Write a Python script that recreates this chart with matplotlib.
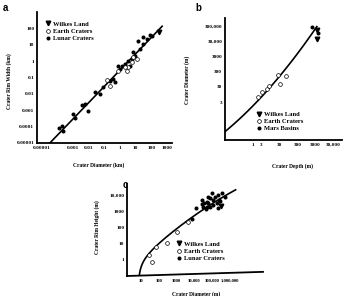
import numpy as np
import matplotlib
matplotlib.use("Agg")
import matplotlib.pyplot as plt
from matplotlib.lines import Line2D

# ---------------- Panel a: rim width vs diameter (km) ----------------
a_lunar_x = [1.23e-4, 2.24e-4, 1.9e-4, 9.8e-4, 1.3e-3, 3.6e-3, 5.8e-3, 8.9e-3, 0.025, 0.052,
             0.081, 0.23, 0.35, 0.48, 1.0, 1.35, 2.1, 3.2, 5.9, 9.1, 6.8, 4.4, 19, 14, 30,
             54, 30, 83, 112, 0.74]
a_lunar_y = [7.9e-5, 5.2e-5, 1.05e-4, 5.8e-4, 3.2e-4, 2.0e-3, 2.3e-3, 8.7e-4, 0.0126, 0.0095,
             0.025, 0.059, 0.078, 0.051, 0.32, 0.48, 0.63, 0.98, 1.29, 1.95, 3.5, 0.48, 5.2,
             15.8, 10.5, 21, 28, 37, 32, 0.48]
a_earth_x = [0.148, 0.23, 0.74, 2.8, 3.2, 2.1, 6.8, 12.3, 5.9]
a_earth_y = [0.068, 0.029, 0.24, 0.24, 0.42, 0.42, 1.7, 1.29, 0.85]
a_wilkes_x = [316]
a_wilkes_y = [56]
a_fit = (-0.55, 0.99)          # log10 W = c0 + c1 log10 D
a_fit_range = (3.2e-5, 500)
a_xticks = [1e-5, 1e-3, 1e-2, 0.1, 1, 10, 100, 1000]
a_xticklabels = ["0.00001", "0.001", "0.01", "0.1", "1", "10", "100", "1000"]
a_yticks = [1e-5, 1e-4, 1e-3, 1e-2, 0.1, 1, 10, 100]
a_yticklabels = ["0.00001", "0.0001", "0.001", "0.01", "0.1", "1", "10", "100"]

# ---------------- Panel b: diameter vs depth (m) ----------------
b_earth_x = [2.0, 3.0, 5.8, 8.1, 25.7, 33, 65]
b_earth_y = [6.2, 14, 20, 35, 170, 44, 155]
b_mars_x = [2000, 3900]
b_mars_y = [270000, 98000]
b_wilkes_x = [3470, 3470]
b_wilkes_y = [162000, 40000]
b_fit = (0.226, 1.208, 0.0739)   # quadratic in log-log
b_fit_range = (0.028, 3500)
b_xticks = [1, 3, 30, 300, 3000, 30000]
b_xticklabels = ["1", "3", "30", "300", "3000", "30,000"]
b_yticks = [3, 30, 300, 3000, 30000, 300000]
b_yticklabels = ["3", "30", "300", "3000", "30,000", "300,000"]

# ---------------- Panel c: rim height vs diameter (m) ----------------
c_earth_x = [28, 44, 68, 282, 1120, 4370]
c_earth_y = [1.9, 0.65, 5.6, 10.7, 51, 200]
c_lunar_x = [7900, 12300, 26900, 36300, 51300, 33100, 51300, 63100, 79400, 63100, 97700, 79400,
             120000, 151000, 234000, 191000, 263000, 363000, 562000, 46800, 26900, 120000,
             234000, 295000]
c_lunar_y = [316, 1580, 2630, 3020, 3470, 1700, 1700, 3020, 1860, 7760, 12600, 6170,
             4790, 7760, 9770, 3020, 4790, 12600, 7760, 1290, 4790, 2340, 1480, 3980]
c_wilkes_x = [316000]
c_wilkes_y = [2140]
c_fit = (-1.009, 1.079, -0.0377, 7.0)  # quadratic in log10(D - D0)
c_fit_range = (7.9, 2.2e6)
c_xticks = [10, 100, 1000, 1e4, 1e5, 1e6]
c_xticklabels = ["10", "100", "1000", "10,000", "100,000", "1,000,000"]
c_yticks = [1, 10, 100, 1000, 10000]
c_yticklabels = ["1", "10", "100", "1000", "10,000"]

SERIF = ["Liberation Serif", "DejaVu Serif"]
plt.rcParams["font.family"] = SERIF
plt.rcParams["font.weight"] = "bold"

fig = plt.figure(figsize=(3.5, 2.96), dpi=100)

def style(ax, xlim, ylim, xt, xtl, yt, ytl, slanted=False, xsize=3.8):
    ax.set_xscale("log")
    ax.set_yscale("log")
    ax.set_xlim(*xlim)
    ax.set_ylim(*ylim)
    ax.set_xticks(xt)
    ax.set_xticklabels(xtl)
    ax.set_yticks(yt)
    ax.set_yticklabels(ytl)
    ax.minorticks_off()
    ax.tick_params(length=0, labelsize=3.8, pad=2)
    ax.tick_params(axis="x", labelsize=xsize)
    for lab in ax.get_xticklabels() + ax.get_yticklabels():
        lab.set_fontweight("bold")
    for s in ["top", "right"]:
        ax.spines[s].set_visible(False)
    ax.spines["left"].set_linewidth(1.3)
    ax.spines["bottom"].set_linewidth(1.3)
    if slanted:
        ax.spines["bottom"].set_visible(False)
        ax.add_line(Line2D([0, 1], [0, 0.045], transform=ax.transAxes, color="black",
                           lw=1.3, clip_on=False))
    ax.patch.set_alpha(0)

ms_dot, ms_open, ms_tri = 1.9, 2.7, 3.3
leg_kw = dict(frameon=False, handletextpad=0.4, labelspacing=0.25,
              borderpad=0.0, handlelength=0.8, borderaxespad=0.0)
LEGPROP = dict(family=SERIF, weight="bold", size=4.7)

def handles():
    return [Line2D([], [], ls="none", marker="v", color="black", ms=ms_tri),
            Line2D([], [], ls="none", marker="o", mfc="white", mec="black", mew=0.5, ms=ms_open),
            Line2D([], [], ls="none", marker="o", color="black", ms=ms_dot)]

# ---- Panel a ----
ax = fig.add_axes([37/350, 1-143/296, 135/350, 131/296])
style(ax, (10**-5.32, 10**3.33), (1e-5, 10**2.99), a_xticks, a_xticklabels, a_yticks, a_yticklabels)
xf = np.logspace(np.log10(a_fit_range[0]), np.log10(a_fit_range[1]), 100)
ax.plot(xf, 10**(a_fit[0] + a_fit[1]*np.log10(xf)), color="black", lw=1.2)
ax.plot(a_lunar_x, a_lunar_y, ls="none", marker="o", color="black", ms=ms_dot)
ax.plot(a_earth_x, a_earth_y, ls="none", marker="o", mfc="white", mec="black", mew=0.5, ms=ms_open)
ax.plot(a_wilkes_x, a_wilkes_y, ls="none", marker="v", color="black", ms=ms_tri)
ax.legend(handles(), ["Wilkes Land", "Earth Craters", "Lunar Craters"],
          loc="upper left", bbox_to_anchor=(0.06, 0.93), prop=LEGPROP, **leg_kw)
ax.set_ylabel("Crater Rim Width (km)", fontsize=4.0, fontweight="bold")
ax.yaxis.set_label_coords(-0.185, 0.47)
ax.set_xlabel("Crater Diameter (km)", fontsize=4.0, fontweight="bold")
ax.xaxis.set_label_coords(0.46, -0.15)

# ---- Panel b ----
ax = fig.add_axes([225/350, 1-140/296, 117/350, 122/296])
style(ax, (10**-1.55, 10**4.94), (10**-2.02, 10**6.0), b_xticks, b_xticklabels, b_yticks, b_yticklabels)
xf = np.logspace(np.log10(b_fit_range[0]), np.log10(b_fit_range[1]), 100)
lx = np.log10(xf)
ax.plot(xf, 10**(b_fit[0] + b_fit[1]*lx + b_fit[2]*lx**2), color="black", lw=1.2)
ax.plot(b_earth_x, b_earth_y, ls="none", marker="o", mfc="white", mec="black", mew=0.5, ms=ms_open)
ax.plot(b_mars_x, b_mars_y, ls="none", marker="o", color="black", ms=ms_dot)
ax.plot(b_wilkes_x, b_wilkes_y, ls="none", marker="v", color="black", ms=ms_tri)
ax.legend(handles(), ["Wilkes Land", "Earth Craters", "Mars Basins"],
          loc="upper left", bbox_to_anchor=(0.27, 0.235), prop=LEGPROP, **leg_kw)
ax.set_ylabel("Crater Diameter (m)", fontsize=4.0, fontweight="bold")
ax.yaxis.set_label_coords(-0.30, 0.49)
ax.set_xlabel("Crater Depth (m)", fontsize=4.0, fontweight="bold")
ax.xaxis.set_label_coords(0.58, -0.19)

# ---- Panel c ----
ax = fig.add_axes([127/350, 1-276/296, 136/350, 92/296])
style(ax, (10**0.21, 10**7.89), (10**-1.04, 10**4.68), c_xticks, c_xticklabels, c_yticks, c_yticklabels,
      slanted=True, xsize=3.4)
xf = np.logspace(np.log10(c_fit_range[0]), np.log10(c_fit_range[1]), 300)
v = np.log10(xf - c_fit[3])
ax.plot(xf, 10**(c_fit[0] + c_fit[1]*v + c_fit[2]*v**2), color="black", lw=1.2)
ax.plot(c_earth_x, c_earth_y, ls="none", marker="o", mfc="white", mec="black", mew=0.5, ms=ms_open)
ax.plot(c_lunar_x, c_lunar_y, ls="none", marker="o", color="black", ms=ms_dot)
ax.plot(c_wilkes_x, c_wilkes_y, ls="none", marker="v", color="black", ms=ms_tri)
ax.legend(handles(), ["Wilkes Land", "Earth Craters", "Lunar Craters"],
          loc="upper left", bbox_to_anchor=(0.36, 0.38), prop=LEGPROP, **leg_kw)
ax.set_ylabel("Crater Rim Height (m)", fontsize=4.0, fontweight="bold")
ax.yaxis.set_label_coords(-0.20, 0.53)
ax.set_xlabel("Crater Diameter (m)", fontsize=4.0, fontweight="bold")
ax.xaxis.set_label_coords(0.51, -0.17)

# panel letters
for lbl, (px, py) in {"a": (3, 3), "b": (195, 3), "c": (123, 180)}.items():
    fig.text(px/350, 1-py/296, lbl, family=["Liberation Sans", "DejaVu Sans"], weight="bold",
             fontsize=7, ha="left", va="top")

fig.savefig("out.png", dpi=100)
